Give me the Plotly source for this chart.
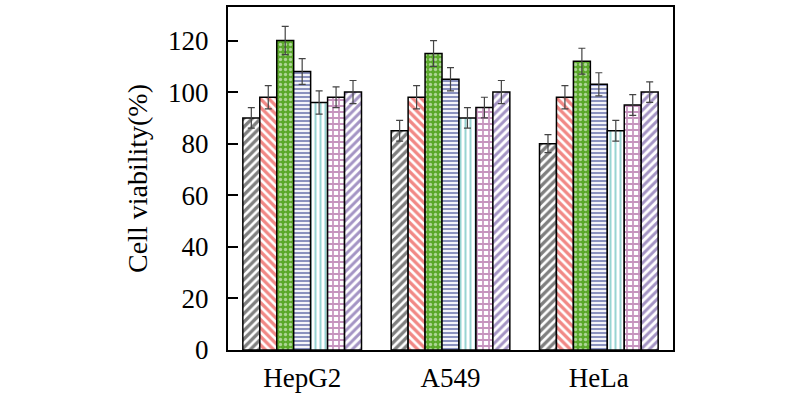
import plotly.graph_objects as go

categories = ["HepG2", "A549", "HeLa"]
series_names = ["S1", "S2", "S3", "S4", "S5", "S6", "S7"]
values = [
    [90, 85, 80],
    [98, 98, 98],
    [120, 115, 112],
    [108, 105, 103],
    [96, 90, 85],
    [98, 94, 95],
    [100, 100, 100],
]
errors = [
    [4, 4, 3.5],
    [4.5, 4.5, 4.5],
    [5.5, 5, 5],
    [5, 4.5, 4.5],
    [4.5, 4, 4],
    [4, 4, 4],
    [4.5, 4.5, 4],
]
y_ticks = [0, 20, 40, 60, 80, 100, 120]

styles = [
    dict(shape="/", fg="#000000", bg="white", size=6, sol=0.55),
    dict(shape="\\", fg="#e3120b", bg="white", size=6, sol=0.55),
    dict(shape=".", fg="white", bg="#5aa82a", size=5, sol=0.35),
    dict(shape="-", fg="#16237e", bg="white", size=4, sol=0.55),
    dict(shape="|", fg="#2fa9a6", bg="white", size=5, sol=0.4),
    dict(shape="+", fg="#8e2a7e", bg="white", size=6, sol=0.5),
    dict(shape="/", fg="#4a2a8a", bg="white", size=6, sol=0.5),
]

fig = go.Figure()
for name, v, e, s in zip(series_names, values, errors, styles):
    fig.add_trace(go.Bar(
        x=categories, y=v, name=name,
        marker=dict(
            color=s["bg"],
            line=dict(color="black", width=1.5),
            pattern=dict(shape=s["shape"], fgcolor=s["fg"], bgcolor=s["bg"],
                         size=s["size"], solidity=s["sol"], fillmode="overlay"),
        ),
        error_y=dict(type="data", array=e, visible=True, color="#444444",
                     thickness=1.2, width=3.5),
    ))

fig.update_layout(
    width=800, height=397,
    margin=dict(l=228, r=127, t=7, b=47, autoexpand=False),
    plot_bgcolor="white", paper_bgcolor="white",
    barmode="group", bargap=0.2, bargroupgap=0,
    showlegend=False,
    font=dict(family="Liberation Serif, Times New Roman, serif", size=27, color="black"),
)
fig.update_xaxes(
    showline=True, linecolor="black", linewidth=2, mirror=True,
    ticks="", showgrid=False, ticklabelstandoff=3, automargin=False,
    tickfont=dict(size=27),
)
fig.update_yaxes(
    range=[0, 133], tickvals=y_ticks, automargin=False,
    showline=True, linecolor="black", linewidth=2, mirror=True,
    ticks="inside", ticklen=10, tickwidth=1.5, tickcolor="black",
    showgrid=False, zeroline=False, ticklabelstandoff=12,
    tickfont=dict(size=27),
    title=dict(text="Cell viability(%)", font=dict(size=28), standoff=12),
)

fig.write_html("out.html", config={"displayModeBar": False},
               post_script="document.body.style.margin='0';document.body.style.overflow='hidden';")
